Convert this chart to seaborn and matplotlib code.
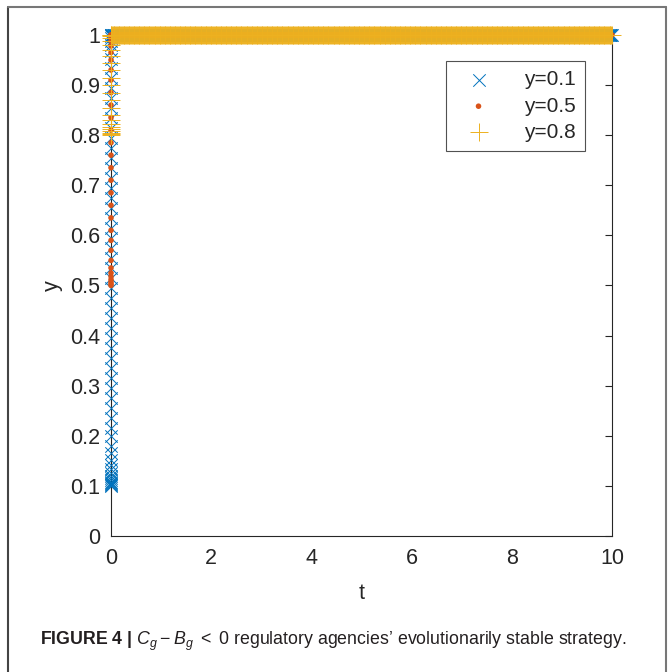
import numpy as np
import pandas as pd
import matplotlib
matplotlib.use('Agg')
import matplotlib.pyplot as plt
import seaborn as sns
from matplotlib.lines import Line2D

# y(t): fast rise at t ~ 0, then flat at y = 1 up to t = 10
y01_rise = [0.100, 0.101, 0.103, 0.105, 0.108, 0.111, 0.115, 0.120, 0.126, 0.133,
            0.142, 0.152, 0.165, 0.180, 0.200, 0.215, 0.235, 0.255, 0.275, 0.295,
            0.315, 0.335, 0.355, 0.375, 0.395, 0.415, 0.435, 0.455, 0.475, 0.495,
            0.515, 0.535, 0.555, 0.575, 0.595, 0.615, 0.635, 0.655, 0.675, 0.695,
            0.715, 0.735, 0.755, 0.775, 0.795, 0.815, 0.835, 0.855, 0.875, 0.895,
            0.915, 0.935, 0.952, 0.967, 0.979, 0.988, 0.994, 0.998, 1.000]
y05_rise = [0.500, 0.503, 0.507, 0.512, 0.518, 0.525, 0.535, 0.550, 0.570, 0.590,
            0.610, 0.635, 0.660, 0.685, 0.710, 0.735, 0.760, 0.785, 0.810, 0.835,
            0.860, 0.885, 0.910, 0.930, 0.950, 0.965, 0.978, 0.988, 0.995, 0.999, 1.000]
y08_rise = [0.800, 0.802, 0.805, 0.808, 0.812, 0.817, 0.823, 0.830, 0.840, 0.855,
            0.870, 0.885, 0.900, 0.915, 0.930, 0.945, 0.958, 0.970, 0.980, 0.988,
            0.994, 0.998, 1.000]
y_steady = 1.0
t_end = 10
n_steps = 600  # solver output steps along the plateau

labels = ['y=0.1', 'y=0.5', 'y=0.8']
colors = ['#0072BD', '#D95319', '#EDB120']
markers = ['x', 'o', '+']
sizes = [80, 16, 170]


def trajectory(rise):
    t_flat = np.linspace(0, t_end, n_steps)
    t = np.concatenate([np.zeros(len(rise)), t_flat])
    y = np.concatenate([rise, np.full(n_steps, y_steady)])
    return pd.DataFrame({'t': t, 'y': y})


sns.set_style('white')
plt.rcParams['font.family'] = ['Liberation Sans', 'DejaVu Sans']
plt.rcParams['mathtext.fontset'] = 'custom'
plt.rcParams['mathtext.rm'] = 'Liberation Sans'
plt.rcParams['mathtext.it'] = 'Liberation Sans:italic'
plt.rcParams['mathtext.bf'] = 'Liberation Sans:bold'

fig = plt.figure(figsize=(6.68, 6.72), dpi=100)
ax = fig.add_axes([0.1662, 0.2024, 0.7500, 0.7456])

for rise, lab, c, m, s in zip([y01_rise, y05_rise, y08_rise], labels, colors, markers, sizes):
    df = trajectory(rise)
    if m == 'o':
        sns.scatterplot(data=df, x='t', y='y', ax=ax, marker=m, s=s, color=c,
                        edgecolor='none', label=lab, clip_on=False, zorder=3)
    else:
        sns.scatterplot(data=df, x='t', y='y', ax=ax, marker=m, s=s, color=c,
                        linewidth=0.7, label=lab, clip_on=False, zorder=3)

ax.set_xlim(0, 10)
ax.set_ylim(0, 1)
ax.set_xticks(range(0, 11, 2))
ax.set_yticks(np.arange(0, 1.01, 0.1))
ax.set_yticklabels(['0', '0.1', '0.2', '0.3', '0.4', '0.5', '0.6', '0.7', '0.8', '0.9', '1'])
ax.tick_params(direction='in', length=5, width=0.8, colors='#262626', labelsize=15.5,
               top=True, right=True)
ax.tick_params(axis='y', pad=8)
ax.tick_params(axis='x', pad=9)
for sp in ax.spines.values():
    sp.set_visible(True)
    sp.set_color('#262626')
    sp.set_linewidth(0.8)
ax.set_xlabel('t', fontsize=15.5, color='#262626', labelpad=10)
ax.set_ylabel('y', fontsize=15.5, color='#262626', labelpad=5)

leg = ax.legend(loc='upper right', bbox_to_anchor=(0.947, 0.948), fontsize=15,
                frameon=True, fancybox=False, borderpad=0.45, labelspacing=0.35,
                handletextpad=1.1, handlelength=2.2, borderaxespad=0)
leg.get_frame().set_edgecolor('#262626')
leg.get_frame().set_linewidth(0.8)

# outer figure frame (left, top, right)
fig.add_artist(Line2D([0.012, 0.012], [0.0, 0.990], color='#444444', lw=1.5))
fig.add_artist(Line2D([0.012, 0.997], [0.990, 0.990], color='#777777', lw=1.5))
fig.add_artist(Line2D([0.997, 0.997], [0.0, 0.990], color='#777777', lw=1.5))

caption = (r'$\mathbf{FIGURE\ 4\ |}$ $C_g - B_g$ $<$ 0 regulatory agencies'
           '\u2019 evolutionarily stable strategy.')
fig.text(0.06, 0.045, caption, fontsize=12.8, color='#231f20', ha='left', va='center')

fig.savefig('out.png', dpi=100)
